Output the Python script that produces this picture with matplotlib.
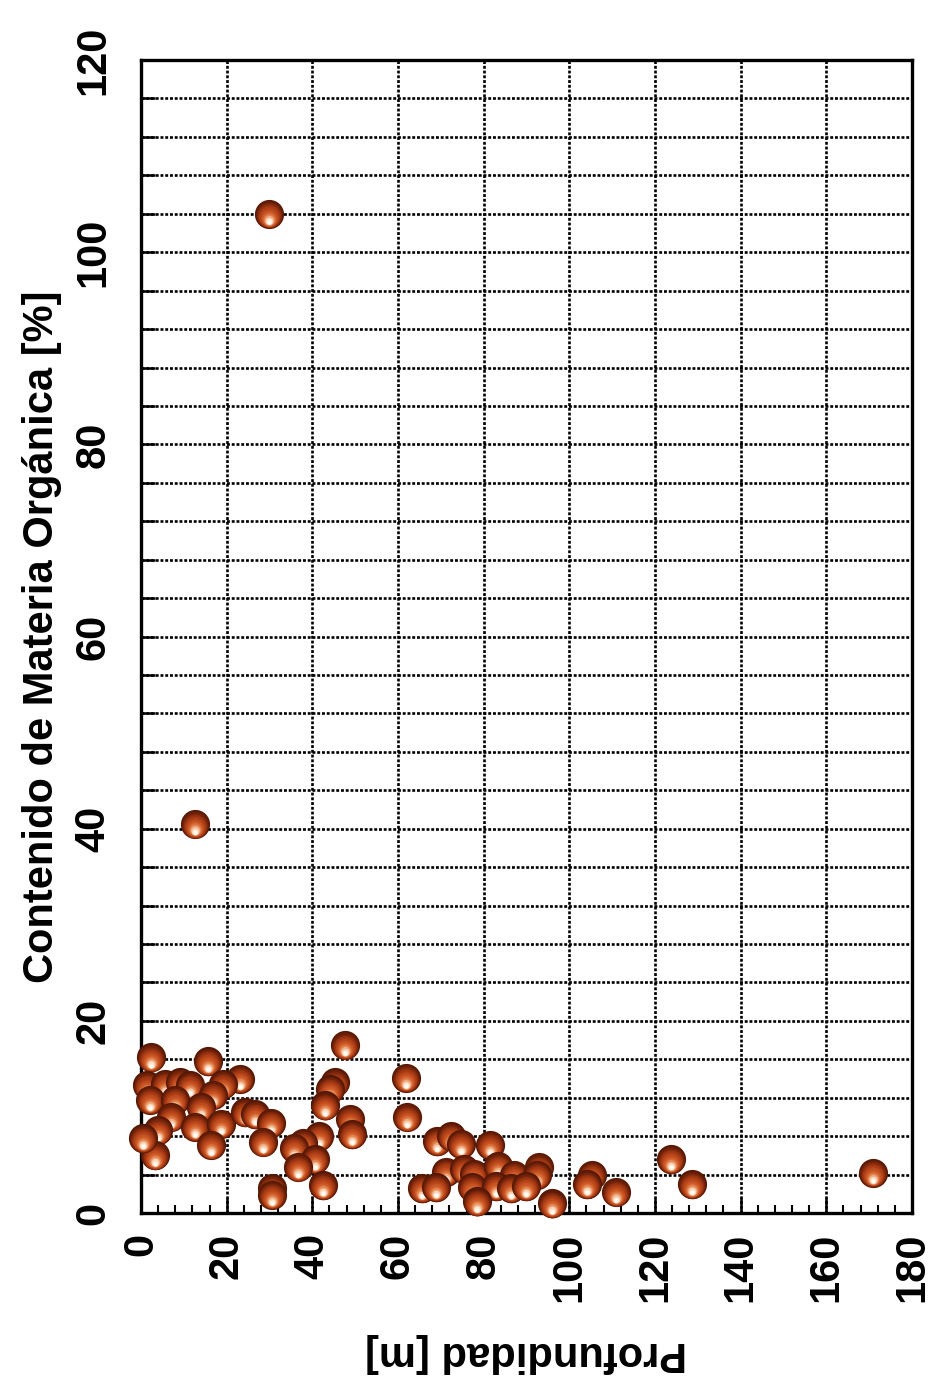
import numpy as np
import matplotlib
matplotlib.use("Agg")
import matplotlib.pyplot as plt
from matplotlib.ticker import MultipleLocator
from matplotlib.transforms import offset_copy
from matplotlib.colors import LinearSegmentedColormap

# Depth [m] and organic matter content [%] of each sample
profundidad = [
    2.3, 15.7, 23.1, 1.5, 5.5, 9.0, 11.5, 19.2, 2.1, 7.9, 16.8, 14.0, 7.0,
    12.6, 18.7, 4.0, 24.3, 26.6, 30.4, 28.5, 16.4, 3.3, 0.5, 30.6, 30.6,
    30.0, 12.5,
    47.7, 45.4, 44.2, 43.0, 48.7, 49.2, 41.5, 37.8, 35.8, 40.6, 36.6, 42.4,
    61.8, 62.2,
    69.0, 72.4, 74.8, 81.6, 71.3, 75.5, 77.7, 83.3, 87.0, 92.9, 92.4, 65.5,
    68.8, 77.2, 82.8, 86.3, 89.8, 78.4, 96.0,
    105.4, 104.1, 110.8, 123.7, 128.7, 171.0,
]
materia_organica = [
    16.2, 15.8, 14.0, 13.3, 13.4, 13.6, 13.3, 13.4, 11.8, 11.8, 12.3, 11.0, 10.0,
    9.0, 9.3, 8.6, 10.5, 10.3, 9.4, 7.4, 7.1, 6.0, 7.8, 2.6, 1.9,
    104.0, 40.5,
    17.5, 13.6, 12.9, 11.2, 9.8, 8.2, 8.0, 7.3, 6.8, 5.6, 4.8, 2.9,
    14.1, 10.0,
    7.5, 8.0, 7.2, 7.1, 4.3, 4.6, 4.1, 4.9, 4.0, 4.8, 4.0, 2.6,
    2.7, 2.7, 2.8, 2.6, 2.8, 1.2, 1.0,
    4.0, 3.0, 2.2, 5.6, 3.0, 4.2,
]

x_ticks = [0, 20, 40, 60, 80, 100, 120, 140, 160, 180]
y_ticks = [0, 20, 40, 60, 80, 100, 120]

FONT = ["Liberation Sans", "DejaVu Sans"]
plt.rcParams["font.family"] = FONT
plt.rcParams["font.weight"] = "bold"

fig = plt.figure(figsize=(9.3, 13.93), dpi=100)
ax = fig.add_axes([0.1516, 0.1292, 0.829, 0.8277])

ax.set_xlim(0, 180)
ax.set_ylim(0, 120)
ax.set_xticks(x_ticks)
ax.set_yticks(y_ticks)
ax.xaxis.set_minor_locator(MultipleLocator(4))
ax.yaxis.set_minor_locator(MultipleLocator(4))

# dotted grid: vertical every 20 m, horizontal every 4 %
grid_style = dict(color="black", linestyle=(0, (1.1, 0.7)), linewidth=1.9)
ax.xaxis.grid(True, which="major", **grid_style)
ax.yaxis.grid(True, which="both", **grid_style)
ax.set_axisbelow(True)

for sp in ax.spines.values():
    sp.set_linewidth(2.4)

ax.tick_params(axis="x", which="major", direction="in", length=11, width=1.8,
               labelsize=30, pad=14, labelrotation=90, top=False)
ax.tick_params(axis="x", which="minor", direction="in", length=6, width=1.5,
               top=False)
ax.tick_params(axis="y", which="major", direction="in", length=10, width=1.8,
               labelsize=30, pad=20, labelrotation=90, right=False)
ax.tick_params(axis="y", which="minor", direction="in", length=10, width=1.8,
               right=False)
for lab in ax.get_xticklabels() + ax.get_yticklabels():
    lab.set_fontweight("bold")
for lab in ax.get_yticklabels():
    lab.set_verticalalignment("center")

ax.set_ylabel("Contenido de Materia Orgánica [%]", fontsize=30,
              fontweight="bold", labelpad=8)
ax.set_xlabel("Profundidad [m]", fontsize=30, fontweight="bold",
              rotation=180, labelpad=22)

# shaded sphere markers, drawn point by point so overlaps stack cleanly
shade = LinearSegmentedColormap.from_list(
    "sphere", ["#561805", "#9a3311", "#bb471b", "#cf5c28", "#e68a58",
               "#f8d4b6", "#fffbf4"])
D = 21.0                       # marker diameter in points
n_layers = 16
fracs = np.linspace(1.0, 0.14, n_layers)
levels = np.linspace(0.0, 1.0, n_layers) ** 1.35
drops = np.linspace(0.0, 0.28, n_layers) * D
layer_tf = [offset_copy(ax.transData, fig=fig, x=0.0, y=-d, units="points")
            for d in drops]

for xi, yi in zip(profundidad, materia_organica):
    for f, lv, tf in zip(fracs, levels, layer_tf):
        ax.scatter([xi], [yi], s=(D * f) ** 2, color=shade(lv),
                   linewidths=0, transform=tf, zorder=3, clip_on=False)

fig.savefig("out.png", dpi=100, facecolor="white")
